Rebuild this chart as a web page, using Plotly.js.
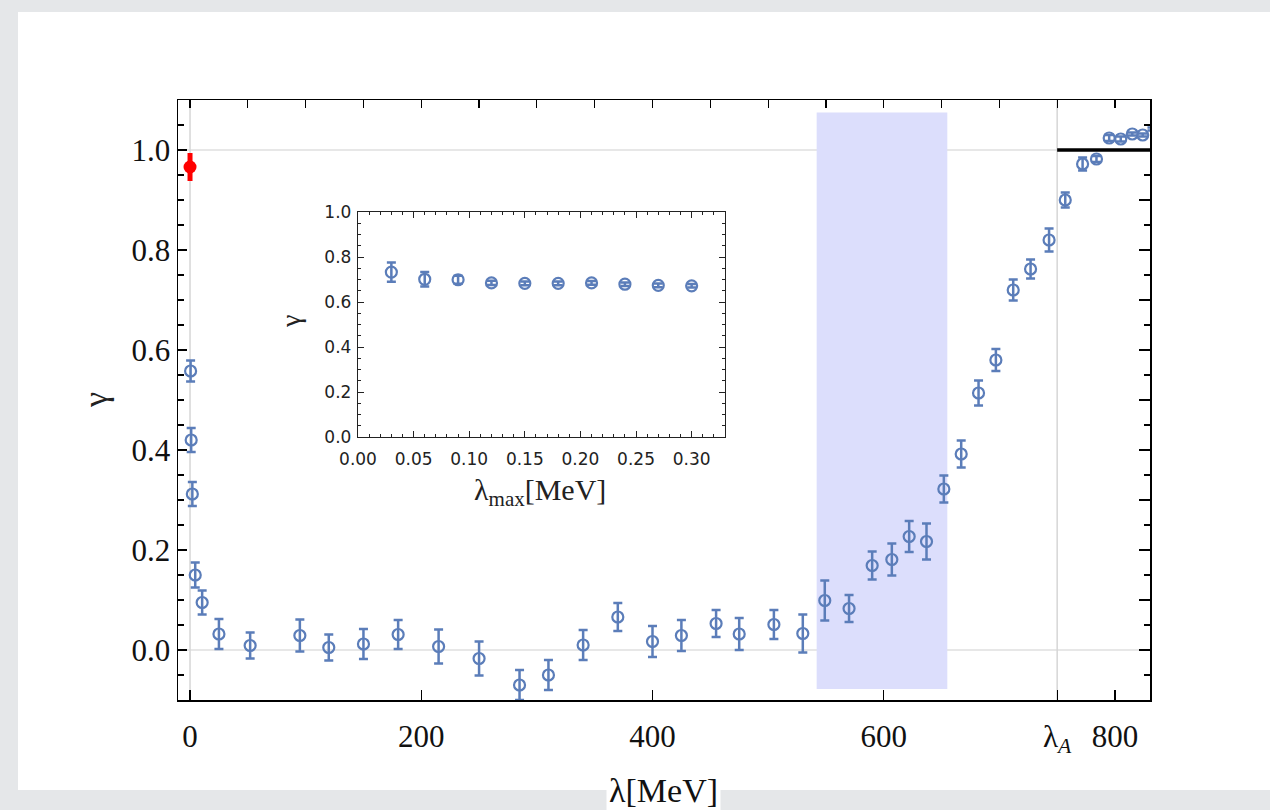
<!DOCTYPE html>
<html>
<head>
<meta charset="utf-8">
<script src="https://cdn.plot.ly/plotly-3.0.1.min.js"></script>
<style>
  html, body { margin: 0; padding: 0; background: #e5e7e9; }
  #chart { width: 1270px; height: 810px; }
</style>
</head>
<body>
<div id="chart"></div>
<script>
// ---- main series: gamma vs lambda [MeV] ----
const lambdaVals = [0.5, 1, 2, 4.5, 10.5, 25, 52, 95, 120, 150, 180, 215, 250, 285, 310, 340, 370, 400, 425, 455, 475, 505, 530, 549, 570, 590, 607, 622, 637, 652, 667, 682, 697, 712, 727, 743, 757, 772, 784, 795, 805, 815, 824, 832];
const gammaVals  = [0.558, 0.42, 0.312, 0.15, 0.095, 0.032, 0.009, 0.029, 0.005, 0.012, 0.031, 0.007, -0.017, -0.07, -0.05, 0.01, 0.066, 0.017, 0.029, 0.053, 0.032, 0.051, 0.033, 0.099, 0.083, 0.169, 0.181, 0.227, 0.217, 0.322, 0.392, 0.514, 0.58, 0.72, 0.762, 0.82, 0.9, 0.972, 0.982, 1.024, 1.022, 1.032, 1.03, 1.042];
const gammaErrs  = [0.021, 0.024, 0.024, 0.025, 0.024, 0.03, 0.026, 0.032, 0.026, 0.03, 0.029, 0.034, 0.034, 0.03, 0.03, 0.03, 0.028, 0.031, 0.031, 0.027, 0.032, 0.029, 0.038, 0.04, 0.027, 0.028, 0.032, 0.031, 0.036, 0.027, 0.027, 0.025, 0.022, 0.021, 0.019, 0.023, 0.015, 0.013, 0.006, 0.006, 0.005, 0.003, 0.003, 0.003];

// ---- reference point (red) ----
const refLambda = [0];
const refGamma  = [0.966];
const refErr    = [0.028];

// ---- inset series: gamma vs lambda_max [MeV] ----
const lambdaMax  = [0.03, 0.06, 0.09, 0.12, 0.15, 0.18, 0.21, 0.24, 0.27, 0.30];
const insetGamma = [0.733, 0.701, 0.699, 0.685, 0.683, 0.683, 0.685, 0.679, 0.674, 0.672];
const insetErr   = [0.043, 0.032, 0.018, 0.009, 0.008, 0.008, 0.008, 0.008, 0.008, 0.008];

// ---- axis ticks / annotations ----
const xTickVals = [0, 200, 400, 600, 750, 800];
const xTickText = ['0', '200', '400', '600', 'λ<sub><i>A</i></sub>', '800'];
const lambdaA = 750;
const bandLambda = [542, 655];
const bandGamma = [-0.078, 1.075];
const unitLine = 1.0;

const blue = '#5b7db9';
const serif = 'Liberation Serif, Times New Roman, serif';
const sans = 'DejaVu Sans, sans-serif';

const xRange = [-10.4, 830.3];
const yRange = [-0.1, 1.1];

const traces = [
  {
    type: 'scatter', mode: 'markers', x: lambdaVals, y: gammaVals,
    xaxis: 'x', yaxis: 'y',
    marker: { symbol: 'circle-open', size: 11, color: blue, line: { width: 2.2, color: blue } },
    error_y: { type: 'data', array: gammaErrs, visible: true, color: blue, thickness: 2.5, width: 4.5 },
    hoverinfo: 'x+y'
  },
  {
    type: 'scatter', mode: 'markers', x: refLambda, y: refGamma,
    xaxis: 'x', yaxis: 'y',
    marker: { symbol: 'circle', size: 13, color: '#ff0000' },
    error_y: { type: 'data', array: refErr, visible: true, color: '#ff0000', thickness: 5, width: 0 },
    cliponaxis: false
  },
  {
    type: 'scatter', mode: 'markers', x: lambdaMax, y: insetGamma,
    xaxis: 'x2', yaxis: 'y2',
    marker: { symbol: 'circle-open', size: 11, color: blue, line: { width: 2.2, color: blue } },
    error_y: { type: 'data', array: insetErr, visible: true, color: blue, thickness: 2.5, width: 4.5 }
  },
  // helpers so that the top / right tick-only axes are drawn
  { type: 'scatter', mode: 'markers', x: [null], y: [null], xaxis: 'x3', yaxis: 'y', hoverinfo: 'skip' },
  { type: 'scatter', mode: 'markers', x: [null], y: [null], xaxis: 'x', yaxis: 'y3', hoverinfo: 'skip' }
];

// plot area in pixels: x 178..1150, y 100..700
const L = 178, R = 1150, T = 100, B = 700;
const px = v => (v - L) / (R - L);
const py = v => (B - v) / (B - T);

const layout = {
  width: 1270, height: 810,
  paper_bgcolor: '#e5e7e9',
  plot_bgcolor: 'rgba(0,0,0,0)',
  margin: { l: L, r: 1270 - R, t: T, b: 810 - B, pad: 0 },
  showlegend: false,
  xaxis: {
    range: xRange, tickmode: 'array', tickvals: xTickVals, ticktext: xTickText,
    ticks: 'inside', ticklen: 10, tickwidth: 1.2, tickcolor: '#000',
    showline: true, linecolor: '#000', linewidth: 1.5, mirror: true,
    showgrid: false, zeroline: false,
    tickfont: { family: serif, size: 31, color: '#111' },
    ticklabelstandoff: 8
  },
  xaxis3: {
    overlaying: 'x', side: 'top', anchor: 'y', range: xRange,
    tickmode: 'linear', tick0: 0, dtick: 50, ticks: 'inside', ticklen: 8, tickwidth: 1.2, tickcolor: '#000',
    showticklabels: false, showgrid: false, zeroline: false, showline: false
  },
  yaxis: {
    range: yRange, tickmode: 'linear', tick0: 0, dtick: 0.2, tickformat: '.1f',
    ticks: 'inside', ticklen: 9, tickwidth: 1.2, tickcolor: '#000',
    minor: { tickmode: 'linear', tick0: 0, dtick: 0.05, ticks: 'inside', ticklen: 6, tickwidth: 1.2, tickcolor: '#000', showgrid: false },
    showline: true, linecolor: '#000', linewidth: 1.5, mirror: true,
    showgrid: false, zeroline: false,
    tickfont: { family: serif, size: 31, color: '#111' },
    ticklabelstandoff: 0
  },
  yaxis3: {
    overlaying: 'y', side: 'right', anchor: 'x', range: yRange,
    tickmode: 'linear', tick0: 0, dtick: 0.1, ticks: 'inside', ticklen: 11, tickwidth: 1.2, tickcolor: '#000',
    minor: { tickmode: 'linear', tick0: 0, dtick: 0.05, ticks: 'inside', ticklen: 6, tickwidth: 1.2, tickcolor: '#000', showgrid: false },
    showticklabels: false, showgrid: false, zeroline: false, showline: false
  },
  xaxis2: {
    domain: [px(358), px(725)], anchor: 'y2', range: [0, 0.33],
    tickmode: 'linear', tick0: 0, dtick: 0.05, tickformat: '.2f',
    ticks: 'inside', ticklen: 6, tickwidth: 1, tickcolor: '#222',
    minor: { tickmode: 'linear', tick0: 0, dtick: 0.01, ticks: 'inside', ticklen: 3, tickwidth: 1, tickcolor: '#222', showgrid: false },
    showline: true, linecolor: '#222', linewidth: 1.2, mirror: 'ticks',
    showgrid: false, zeroline: false,
    tickfont: { family: sans, size: 17, color: '#222' },
    ticklabelstandoff: 6
  },
  yaxis2: {
    domain: [py(437), py(212)], anchor: 'x2', range: [0, 1],
    tickmode: 'linear', tick0: 0, dtick: 0.2, tickformat: '.1f',
    ticks: 'inside', ticklen: 6, tickwidth: 1, tickcolor: '#222',
    minor: { tickmode: 'linear', tick0: 0, dtick: 0.05, ticks: 'inside', ticklen: 3, tickwidth: 1, tickcolor: '#222', showgrid: false },
    showline: true, linecolor: '#222', linewidth: 1.2, mirror: 'ticks',
    showgrid: false, zeroline: false,
    tickfont: { family: sans, size: 17, color: '#222' },
    ticklabelstandoff: 2
  },
  shapes: [
    // white slide card
    { type: 'rect', xref: 'paper', yref: 'paper', x0: px(18), x1: px(1270), y0: py(790), y1: py(12),
      fillcolor: '#ffffff', line: { width: 0 }, layer: 'below' },
    // highlighted band
    { type: 'rect', xref: 'x', yref: 'y', x0: bandLambda[0], x1: bandLambda[1], y0: bandGamma[0], y1: bandGamma[1],
      fillcolor: '#dcdefc', line: { width: 0 }, layer: 'below' },
    // grid lines
    { type: 'line', xref: 'paper', yref: 'y', x0: 0, x1: 1, y0: 0, y1: 0, line: { color: '#cfcfcf', width: 1 }, layer: 'below' },
    { type: 'line', xref: 'paper', yref: 'y', x0: 0, x1: 1, y0: unitLine, y1: unitLine, line: { color: '#cfcfcf', width: 1 }, layer: 'below' },
    { type: 'line', xref: 'x', yref: 'paper', x0: 0, x1: 0, y0: 0, y1: 1, line: { color: '#d6d6d6', width: 1.5 }, layer: 'below' },
    { type: 'line', xref: 'x', yref: 'paper', x0: lambdaA, x1: lambdaA, y0: 0, y1: 1, line: { color: '#d6d6d6', width: 1.5 }, layer: 'below' },
    // asymptote line
    { type: 'line', xref: 'x', yref: 'y', x0: lambdaA, x1: xRange[1] + 2, y0: unitLine, y1: unitLine, line: { color: '#000', width: 3.5 } }
  ],
  annotations: [
    { xref: 'paper', yref: 'paper', x: px(663), y: py(790), xanchor: 'center', yanchor: 'middle',
      text: 'λ[MeV]', showarrow: false, bgcolor: '#ffffff', borderpad: 2,
      font: { family: serif, size: 34, color: '#111' } },
    { xref: 'paper', yref: 'paper', x: px(95), y: py(400), xanchor: 'center', yanchor: 'middle',
      text: 'γ', textangle: -90, showarrow: false,
      font: { family: serif, size: 34, color: '#222' } },
    { xref: 'paper', yref: 'paper', x: px(540), y: py(492), xanchor: 'center', yanchor: 'middle',
      text: 'λ<sub>max</sub>[MeV]', showarrow: false,
      font: { family: serif, size: 30, color: '#222' } },
    { xref: 'paper', yref: 'paper', x: px(290), y: py(322), xanchor: 'center', yanchor: 'middle',
      text: 'γ', textangle: -90, showarrow: false,
      font: { family: serif, size: 28, color: '#222' } }
  ]
};

Plotly.newPlot('chart', traces, layout, { displayModeBar: false, staticPlot: true });
</script>
</body>
</html>
